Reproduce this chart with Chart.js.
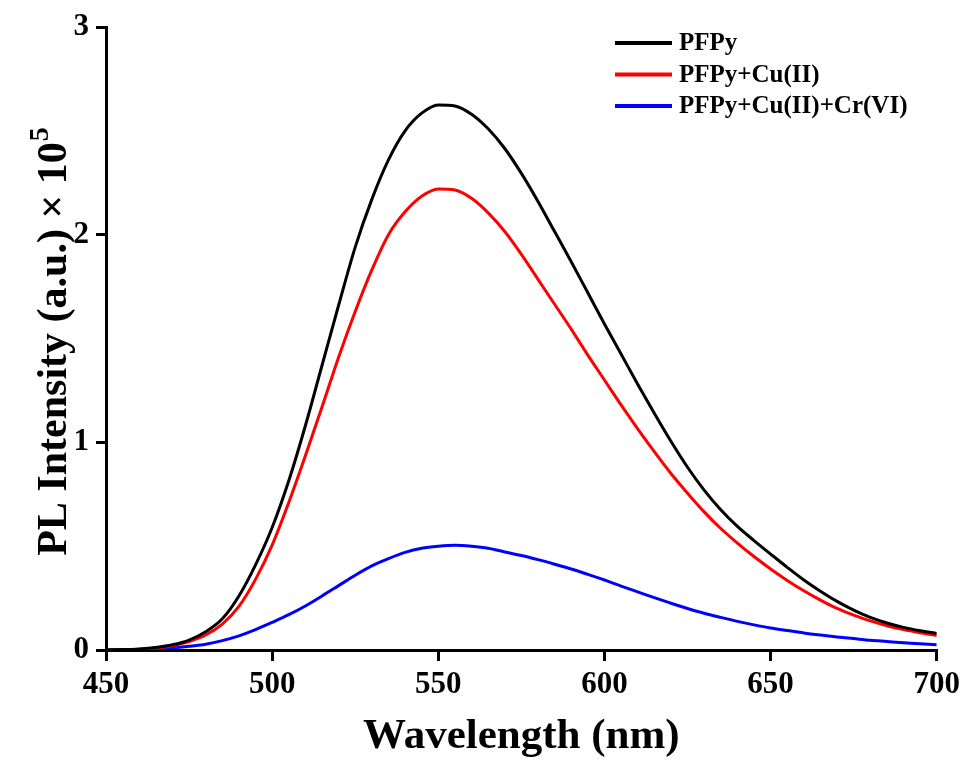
<!DOCTYPE html>
<html>
<head>
<meta charset="utf-8">
<script src="https://cdn.jsdelivr.net/npm/chart.js@4.4.1/dist/chart.umd.min.js"></script>
<style>
	html, body { margin: 0; padding: 0; background: #fff; }
	#wrap { width: 965px; height: 763px; }
</style>
</head>
<body>
<div id="wrap"><canvas id="pl_chart" width="965" height="763"></canvas></div>
<script>
// wavelength (nm) and PL intensity (a.u. x 10^5)
const wavelengths = [450, 455, 460, 465, 470, 475, 480, 485, 490, 495,
	500, 505, 510, 515, 520, 525, 530, 535, 540, 545,
	550, 555, 560, 565, 570, 575, 580, 585, 590, 595,
	600, 605, 610, 615, 620, 625, 630, 635, 640, 645,
	650, 655, 660, 665, 670, 675, 680, 685, 690, 695, 700];

const pfpy = [0.000, 0.002, 0.005, 0.012, 0.025, 0.048, 0.088, 0.150, 0.260, 0.410,
	0.590, 0.815, 1.080, 1.370, 1.660, 1.940, 2.170, 2.360, 2.500, 2.585,
	2.625, 2.620, 2.580, 2.510, 2.415, 2.295, 2.160, 2.015, 1.870, 1.720,
	1.570, 1.425, 1.280, 1.140, 1.005, 0.880, 0.770, 0.675, 0.595, 0.527,
	0.462, 0.398, 0.337, 0.283, 0.234, 0.192, 0.157, 0.130, 0.109, 0.093, 0.080];

const pfpyCu = [0.000, 0.002, 0.004, 0.010, 0.020, 0.040, 0.072, 0.125, 0.210, 0.340,
	0.505, 0.710, 0.935, 1.170, 1.410, 1.630, 1.830, 2.000, 2.110, 2.185,
	2.220, 2.215, 2.175, 2.105, 2.015, 1.905, 1.785, 1.665, 1.545, 1.420,
	1.300, 1.180, 1.065, 0.955, 0.850, 0.755, 0.665, 0.585, 0.515, 0.450,
	0.390, 0.335, 0.285, 0.240, 0.200, 0.168, 0.140, 0.117, 0.098, 0.083, 0.070];

const pfpyCuCr = [0.000, 0.001, 0.002, 0.005, 0.010, 0.018, 0.028, 0.045, 0.068, 0.098,
	0.133, 0.170, 0.212, 0.260, 0.310, 0.360, 0.405, 0.440, 0.470, 0.490,
	0.500, 0.505, 0.500, 0.490, 0.472, 0.455, 0.435, 0.413, 0.390, 0.364,
	0.337, 0.308, 0.280, 0.252, 0.225, 0.200, 0.177, 0.157, 0.138, 0.121,
	0.106, 0.094, 0.082, 0.072, 0.063, 0.055, 0.047, 0.041, 0.035, 0.030, 0.025];

const seriesNames = ["PFPy", "PFPy+Cu(II)", "PFPy+Cu(II)+Cr(VI)"];
const seriesColors = ["#000000", "#ff0000", "#0000ff"];
const xTicks = [450, 500, 550, 600, 650, 700];
const yTicks = [0, 1, 2, 3];

const serif = "'Liberation Serif', 'Times New Roman', serif";

function toPoints(values) {
	return values.map(function(v, i) {
		return {x: wavelengths[i], y: v};
	});
}

const datasets = [pfpy, pfpyCu, pfpyCuCr].map(function(values, i) {
	return {
		label: seriesNames[i],
		data: toPoints(values),
		borderColor: seriesColors[i],
		borderWidth: 3,
		pointRadius: 0,
		fill: false,
		cubicInterpolationMode: "monotone",
	};
});

// legend in the upper right corner and the rotated y title with superscript
const decorations = {
	id: "decorations",
	afterDraw: function(chart) {
		const ctx = chart.ctx;
		ctx.save();

		// legend
		ctx.font = "bold 25px " + serif;
		ctx.textBaseline = "middle";
		ctx.textAlign = "left";
		chart.data.datasets.forEach(function(ds, i) {
			const y = 43 + i * 31.5;
			ctx.strokeStyle = ds.borderColor;
			ctx.lineWidth = 4;
			ctx.beginPath();
			ctx.moveTo(615, y);
			ctx.lineTo(672, y);
			ctx.stroke();
			ctx.fillStyle = "#000";
			ctx.fillText(ds.label, 679, y + 1);
		});

		// y axis title
		const main = "PL Intensity (a.u.) \u00d7 10";
		ctx.translate(52, 342);
		ctx.rotate(-Math.PI / 2);
		ctx.font = "bold 42px " + serif;
		const mainW = ctx.measureText(main).width;
		ctx.font = "bold 28px " + serif;
		const supW = ctx.measureText("5").width;
		const start = -(mainW + supW) / 2;
		ctx.fillStyle = "#000";
		ctx.textBaseline = "alphabetic";
		ctx.font = "bold 42px " + serif;
		ctx.fillText(main, start, 14);
		ctx.font = "bold 28px " + serif;
		ctx.fillText("5", start + mainW + 1, -4);

		ctx.restore();
	}
};

new Chart(document.getElementById("pl_chart"), {
	type: "line",
	data: {datasets: datasets},
	options: {
		responsive: false,
		animation: false,
		devicePixelRatio: 1,
		layout: {padding: {top: 27, right: 28, left: 0, bottom: 0}},
		plugins: {
			legend: {display: false},
			tooltip: {enabled: false},
		},
		scales: {
			x: {
				type: "linear",
				min: 450,
				max: 700,
				afterBuildTicks: function(scale) {
					scale.ticks = xTicks.map(function(v) { return {value: v}; });
				},
				afterFit: function(scale) { scale.height = 113; },
				ticks: {
					color: "#000",
					padding: 5,
					maxRotation: 0,
					font: {family: serif, size: 31, weight: "bold"},
				},
				grid: {
					drawOnChartArea: false,
					tickLength: 11,
					color: "#000",
					lineWidth: 3,
				},
				border: {display: true, color: "#000", width: 3},
				title: {
					display: true,
					text: "Wavelength (nm)",
					color: "#000",
					padding: {top: 0, bottom: 0},
					font: {family: serif, size: 43, weight: "bold"},
				},
			},
			y: {
				min: 0,
				max: 3,
				afterBuildTicks: function(scale) {
					scale.ticks = yTicks.map(function(v) { return {value: v}; });
				},
				afterFit: function(scale) { scale.width = 106; },
				ticks: {
					color: "#000",
					padding: 7,
					font: {family: serif, size: 31, weight: "bold"},
				},
				grid: {
					drawOnChartArea: false,
					tickLength: 10,
					color: "#000",
					lineWidth: 3,
				},
				border: {display: true, color: "#000", width: 3},
			},
		},
	},
	plugins: [decorations],
});
</script>
</body>
</html>
